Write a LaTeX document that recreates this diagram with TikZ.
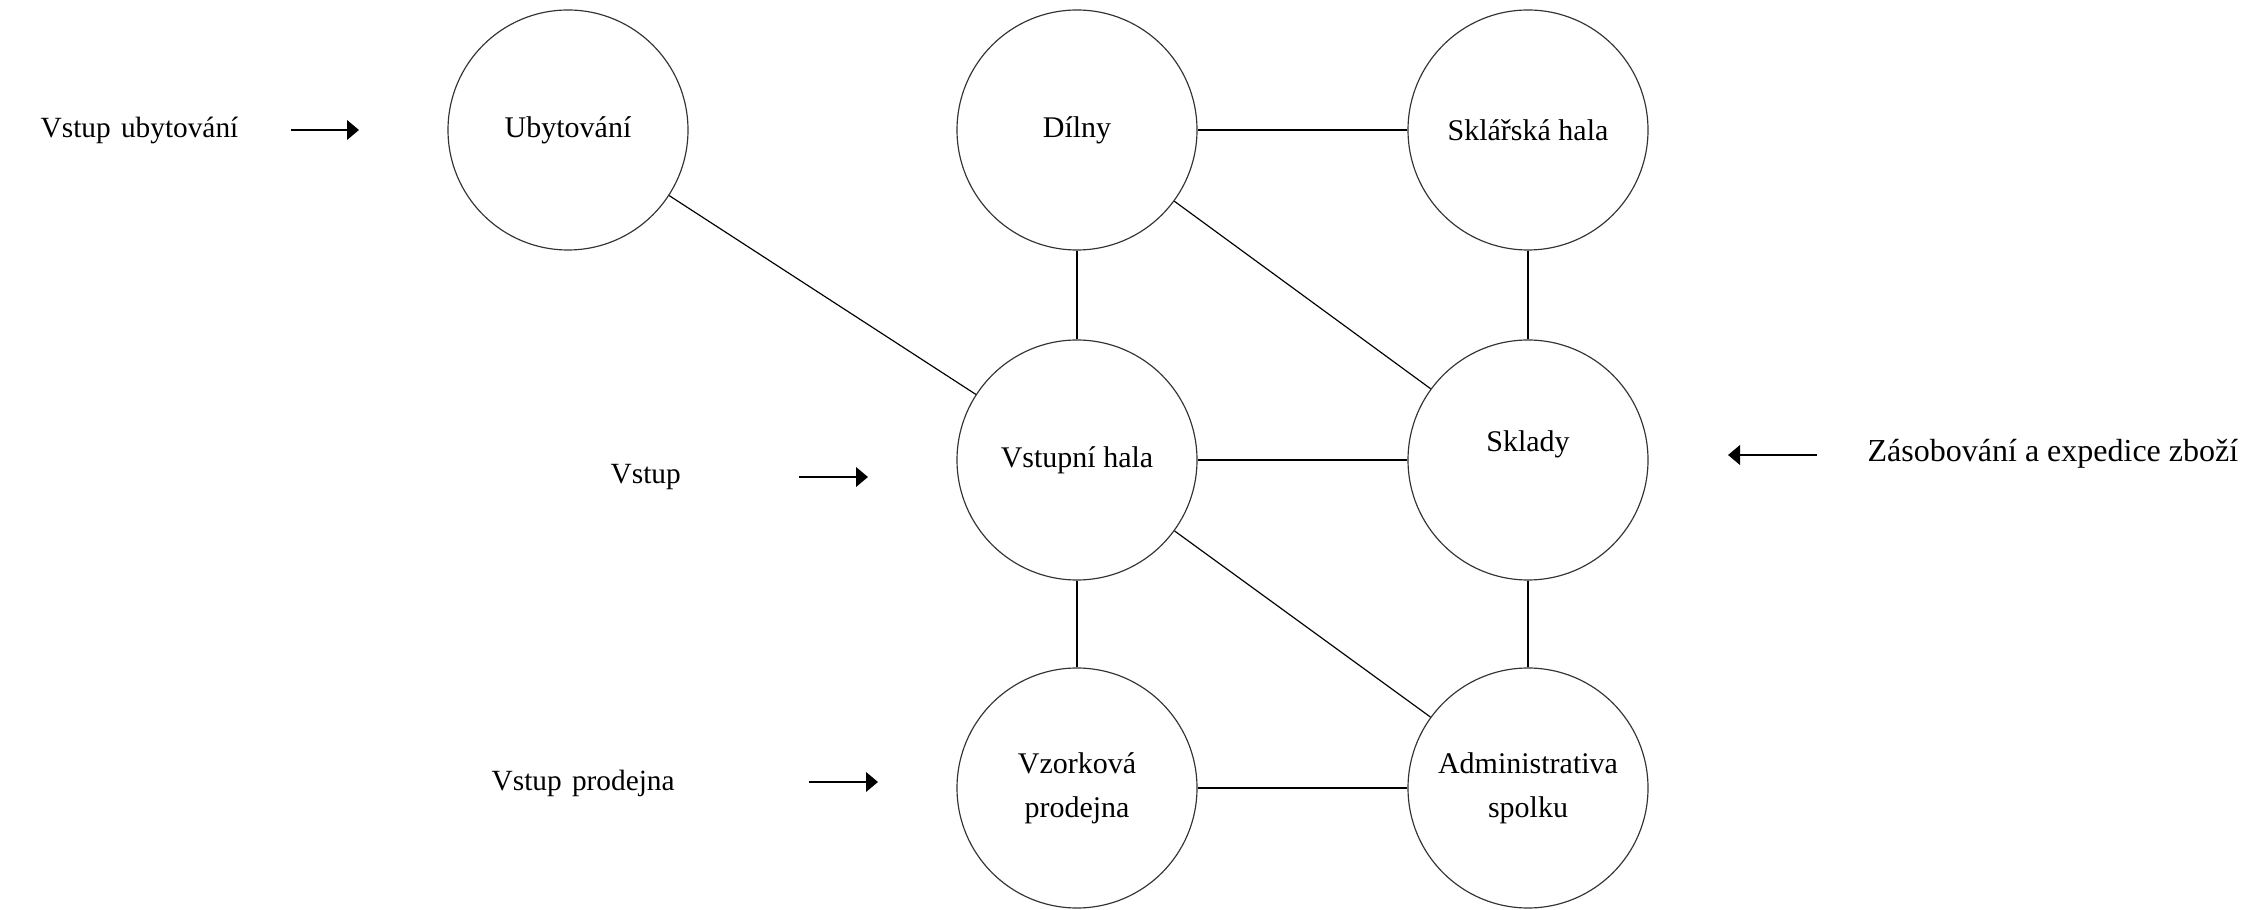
\documentclass[tikz,border=0pt]{standalone}
\usepackage{fontspec}
\setmainfont{Liberation Serif}
\usetikzlibrary{arrows.meta}
\begin{document}
\begin{tikzpicture}[x=0.3pt,y=-0.3pt,
  room/.style={circle,draw=black!80,line width=0.35pt,minimum size=72pt,inner sep=0pt,align=center,font=\fontsize{9}{13.3}\selectfont},
  lbl/.style={font=\fontsize{8.8}{11}\selectfont,inner sep=0pt,anchor=west},
  link/.style={line width=0.35pt},
  entry/.style={line width=0.85pt,-{Triangle[length=3.6pt,width=5.8pt]}}]
\useasboundingbox (0,0) rectangle (2245,910);
\node[room] (ub) at (568,130) {Ubytování};
\node[room] (di) at (1077,130) {Dílny};
\node[room] (sh) at (1528,130) {Sklářská hala};
\node[room] (vh) at (1077,460) {Vstupní hala};
\node[room] (sk) at (1528,460) {};
\node[font=\fontsize{9}{11}\selectfont,inner sep=0pt] (skt) at (1528,444) {Sklady};
\node[room] (vp) at (1077,788) {Vzorková\\prodejna};
\node[room] (as) at (1528,788) {Administrativa\\spolku};

\draw[link] (ub) -- (vh);
\draw[link] (di) -- (sh);
\draw[link] (di) -- (vh);
\draw[link] (di) -- (sk);
\draw[link] (sh) -- (sk);
\draw[link] (vh) -- (sk);
\draw[link] (vh) -- (as);
\draw[link] (vh) -- (vp);
\draw[link] (sk) -- (as);
\draw[link] (vp) -- (as);

\node[lbl] (l1) at (40,130) {Vstup\hspace{0.35em}ubytování};
\node[lbl] (l2) at (610,477) {Vstup};
\node[lbl] (l3) at (491,783) {Vstup\hspace{0.35em}prodejna};
\node[lbl,font=\fontsize{9.6}{11}\selectfont] (l4) at (1867,454) {Zásobování a expedice zboží};

\coordinate (a1s) at (291,130); \coordinate (a1e) at (359,130);
\coordinate (a2s) at (799,477); \coordinate (a2e) at (868,477);
\coordinate (a3s) at (809,782); \coordinate (a3e) at (878,782);
\coordinate (a4s) at (1817,455); \coordinate (a4e) at (1728,455);
\draw[entry] (a1s) -- (a1e);
\draw[entry] (a2s) -- (a2e);
\draw[entry] (a3s) -- (a3e);
\draw[entry] (a4s) -- (a4e);
\end{tikzpicture}
\end{document}
